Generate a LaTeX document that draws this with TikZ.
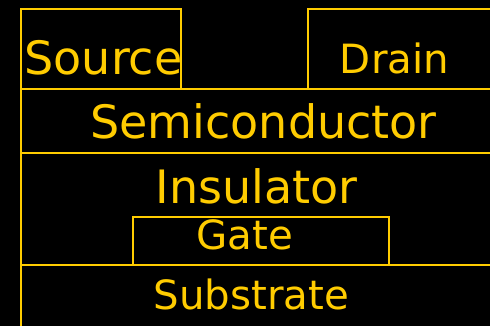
\documentclass[tikz,border=0pt]{standalone}
\usepackage{fontspec}
\setmainfont{DejaVu Sans}
\definecolor{gold}{RGB}{255,204,0}
\begin{document}
\begin{tikzpicture}[x=1pt,y=-1pt,
  layer/.style={draw=gold, line width=2.2pt},
  bigtext/.style={text=gold, font=\fontsize{46}{46}\selectfont, anchor=base, inner sep=0pt},
  smalltext/.style={text=gold, font=\fontsize{40.3}{40.3}\selectfont, anchor=base, inner sep=0pt}]
\fill[black] (0,0) rectangle (490,326);
\useasboundingbox (0,0) rectangle (490,326);
\clip (0,0) rectangle (490,326);
% layers
\draw[layer] (21,265) rectangle (500,340);
\draw[layer] (21,153) rectangle (500,265);
\draw[layer] (21,89) rectangle (500,153);
\draw[layer] (133,217) rectangle (389,265);
\draw[layer] (21,9) rectangle (181,89);
\draw[layer] (308,9) rectangle (500,89);
% labels
\node[bigtext] (source) at (103.5,75) {Source};
\node[smalltext] (drain) at (394.5,74) {Drain};
\node[bigtext] (semi) at (263.5,139) {Semiconductor};
\node[bigtext] (ins) at (256.5,203) {Insulator};
\node[smalltext] (gate) at (245,249) {Gate};
\node[smalltext] (sub) at (251.5,309) {Substrate};
\end{tikzpicture}
\end{document}
